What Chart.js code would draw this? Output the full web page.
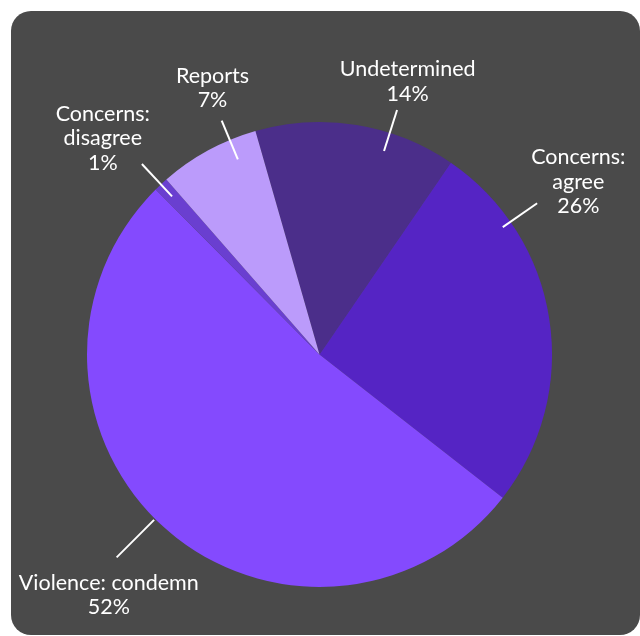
<!DOCTYPE html>
<html>
<head>
<meta charset="utf-8">
<script src="https://cdn.jsdelivr.net/npm/chart.js@4"></script>
<style>
  html, body { margin: 0; padding: 0; background: #ffffff; overflow: hidden; }
  #panel {
    position: absolute; left: 11px; top: 11px; width: 629px; height: 624px;
    background: #4a4a4a; border-radius: 20px;
  }
  #wrap { position: absolute; left: 0; top: 0; width: 640px; height: 636px; }
</style>
</head>
<body>
<div id="panel"></div>
<div id="wrap"><canvas id="pieChart" width="640" height="636"></canvas></div>
<script>
// categories, clockwise from the top
const categories = [
  ['Undetermined'],
  ['Concerns:', 'agree'],
  ['Violence: condemn'],
  ['Concerns:', 'disagree'],
  ['Reports']
];
const shares = [14, 26, 52, 1, 7];
const sliceColors = ['#4b2e8a', '#5524c4', '#844afe', '#6a3fd0', '#bb9bfb'];

// label placement per slice, relative to the slice middle and the pie radius
const leaderShift = [8.4, -26, 3.4, 0, 5.9];      // deg
const leaderInner = [0.918, 0.96, 1.006, 0.93, 0.91];
const leaderOuter = [1.103, 1.14, 1.234, 1.12, 1.09];
const textShift = [8.7, -24.9, -0.4, -2.1, 6.7];  // deg
const textDist = [1.234, 1.338, 1.376, 1.316, 1.234];

const FONT = '21.5px Lato';
const LINE_H = 24.5;

const labelPlugin = {
  id: 'sliceLabels',
  afterDatasetsDraw(chart) {
    const ctx = chart.ctx;
    const meta = chart.getDatasetMeta(0);
    const rad = Math.PI / 180;
    ctx.save();
    ctx.font = FONT;
    ctx.fillStyle = '#ffffff';
    ctx.strokeStyle = '#ffffff';
    ctx.lineWidth = 2;
    ctx.textAlign = 'center';
    ctx.textBaseline = 'middle';
    meta.data.forEach((arc, i) => {
      const p = arc.getProps(['x', 'y', 'startAngle', 'endAngle', 'outerRadius'], true);
      const mid = (p.startAngle + p.endAngle) / 2;
      const r = p.outerRadius;

      const a = mid + leaderShift[i] * rad;
      ctx.beginPath();
      ctx.moveTo(p.x + Math.cos(a) * r * leaderInner[i], p.y + Math.sin(a) * r * leaderInner[i]);
      ctx.lineTo(p.x + Math.cos(a) * r * leaderOuter[i], p.y + Math.sin(a) * r * leaderOuter[i]);
      ctx.stroke();

      const b = mid + textShift[i] * rad;
      const cx = p.x + Math.cos(b) * r * textDist[i];
      const cy = p.y + Math.sin(b) * r * textDist[i];
      const lines = categories[i].concat([shares[i] + '%']);
      const h = lines.length * LINE_H;
      lines.forEach((txt, k) => {
        ctx.fillText(txt, cx, cy - h / 2 + LINE_H * (k + 0.5));
      });
    });
    ctx.restore();
  }
};

new Chart(document.getElementById('pieChart'), {
  type: 'pie',
  data: {
    labels: categories,
    datasets: [{
      data: shares,
      backgroundColor: sliceColors,
      borderWidth: 0
    }]
  },
  options: {
    responsive: false,
    animation: false,
    rotation: -16,
    layout: { padding: { left: 87, right: 88, top: 122, bottom: 49 } },
    plugins: {
      legend: { display: false },
      tooltip: { enabled: false }
    }
  },
  plugins: [labelPlugin]
});
</script>
</body>
</html>
